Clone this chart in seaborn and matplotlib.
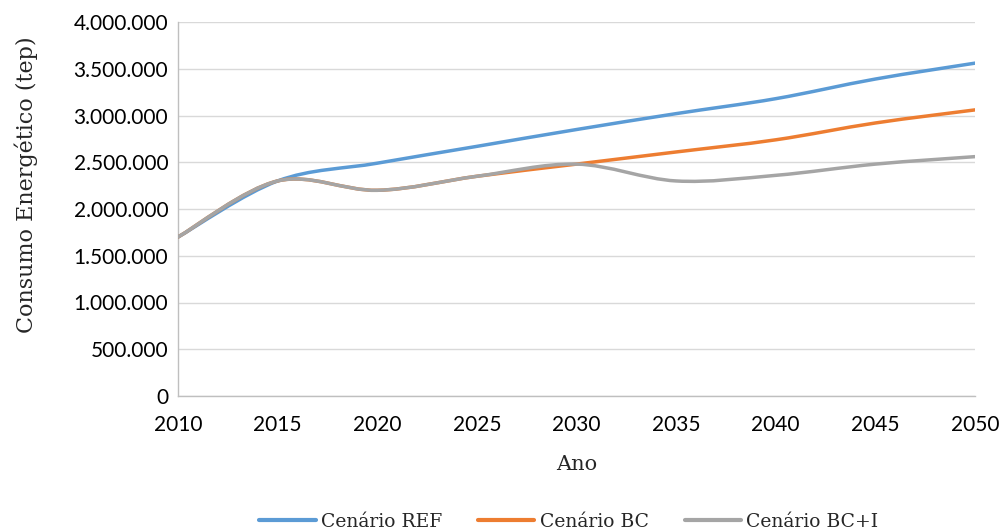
import numpy as np
import pandas as pd
import seaborn as sns
import matplotlib
matplotlib.use("Agg")
import matplotlib.pyplot as plt
from matplotlib.path import Path
from matplotlib.patches import PathPatch
from matplotlib.lines import Line2D
from matplotlib.ticker import FuncFormatter, MultipleLocator

# Energy consumption scenarios (tep)
years = [2010, 2015, 2020, 2025, 2030, 2035, 2040, 2045, 2050]
cenario_ref = [1700000, 2300000, 2490000, 2670000, 2850000, 3020000, 3180000, 3390000, 3560000]
cenario_bc = [1700000, 2300000, 2200000, 2350000, 2480000, 2610000, 2740000, 2920000, 3060000]
cenario_bci = [1700000, 2300000, 2200000, 2350000, 2480000, 2300000, 2360000, 2480000, 2560000]
series_names = ["Cenário REF", "Cenário BC", "Cenário BC+I"]
colors = ["#5B9BD5", "#ED7D31", "#A5A5A5"]

df = pd.DataFrame({"Ano": years, "Cenário REF": cenario_ref,
                   "Cenário BC": cenario_bc, "Cenário BC+I": cenario_bci})

sns.set_theme(style="white")
tick_font = ["Lato", "DejaVu Sans"]
label_font = ["DejaVu Serif"]

fig = plt.figure(figsize=(9.99, 5.32), dpi=100)
ax = fig.add_axes([178 / 999, 1 - 396 / 532, (975 - 178) / 999, (396 - 22) / 532])


def smooth_path(xs, ys):
    """Catmull-Rom style cubic Bezier path through the given points."""
    pts = np.column_stack([xs, ys]).astype(float)
    n = len(pts)
    verts = [pts[0]]
    codes = [Path.MOVETO]
    for i in range(n - 1):
        p0 = pts[i - 1] if i > 0 else pts[i]
        p1 = pts[i]
        p2 = pts[i + 1]
        p3 = pts[i + 2] if i + 2 < n else pts[i + 1]
        c1 = p1 + (p2 - p0) / 6.0
        c2 = p2 - (p3 - p1) / 6.0
        verts += [c1, c2, p2]
        codes += [Path.CURVE4] * 3
    return Path(verts, codes)


for name, color in zip(series_names, colors):
    patch = PathPatch(smooth_path(df["Ano"], df[name]), facecolor="none",
                      edgecolor=color, lw=2.5, capstyle="round",
                      joinstyle="round", zorder=3)
    ax.add_patch(patch)

ax.set_xlim(2010, 2050)
ax.set_ylim(0, 4000000)
ax.xaxis.set_major_locator(MultipleLocator(5))
ax.yaxis.set_major_locator(MultipleLocator(500000))
ax.yaxis.set_major_formatter(FuncFormatter(lambda v, p: f"{int(v):,}".replace(",", ".")))
ax.grid(axis="y", color="#D9D9D9", lw=1.0)
ax.grid(axis="x", visible=False)
ax.set_axisbelow(True)
sns.despine(ax=ax, top=True, right=True)
for s in ("left", "bottom"):
    ax.spines[s].set_color("#BFBFBF")
    ax.spines[s].set_linewidth(1.0)

ax.tick_params(axis="both", length=0, labelsize=15, colors="#000000")
ax.tick_params(axis="y", pad=7)
ax.tick_params(axis="x", pad=14)
for lab in ax.get_xticklabels() + ax.get_yticklabels():
    lab.set_family(tick_font)

ax.set_xlabel("Ano", family=label_font, fontsize=15)
ax.set_ylabel("Consumo Energético (tep)", family=label_font, fontsize=16)
ax.xaxis.set_label_coords(0.5, -(455 - 396) / 374)
ax.yaxis.set_label_coords(-(178 - 38) / 797, (396 - 185) / 374)

handles = [Line2D([0], [0], color=c, lw=3, solid_capstyle="round") for c in colors]
fig.legend(handles, series_names, loc="center", bbox_to_anchor=(569 / 999, 1 - 522 / 532),
           ncol=3, frameon=False, prop={"family": label_font, "size": 13.5},
           handlelength=3.0, handletextpad=0.3, columnspacing=1.9)

fig.savefig("out.png", dpi=100)
